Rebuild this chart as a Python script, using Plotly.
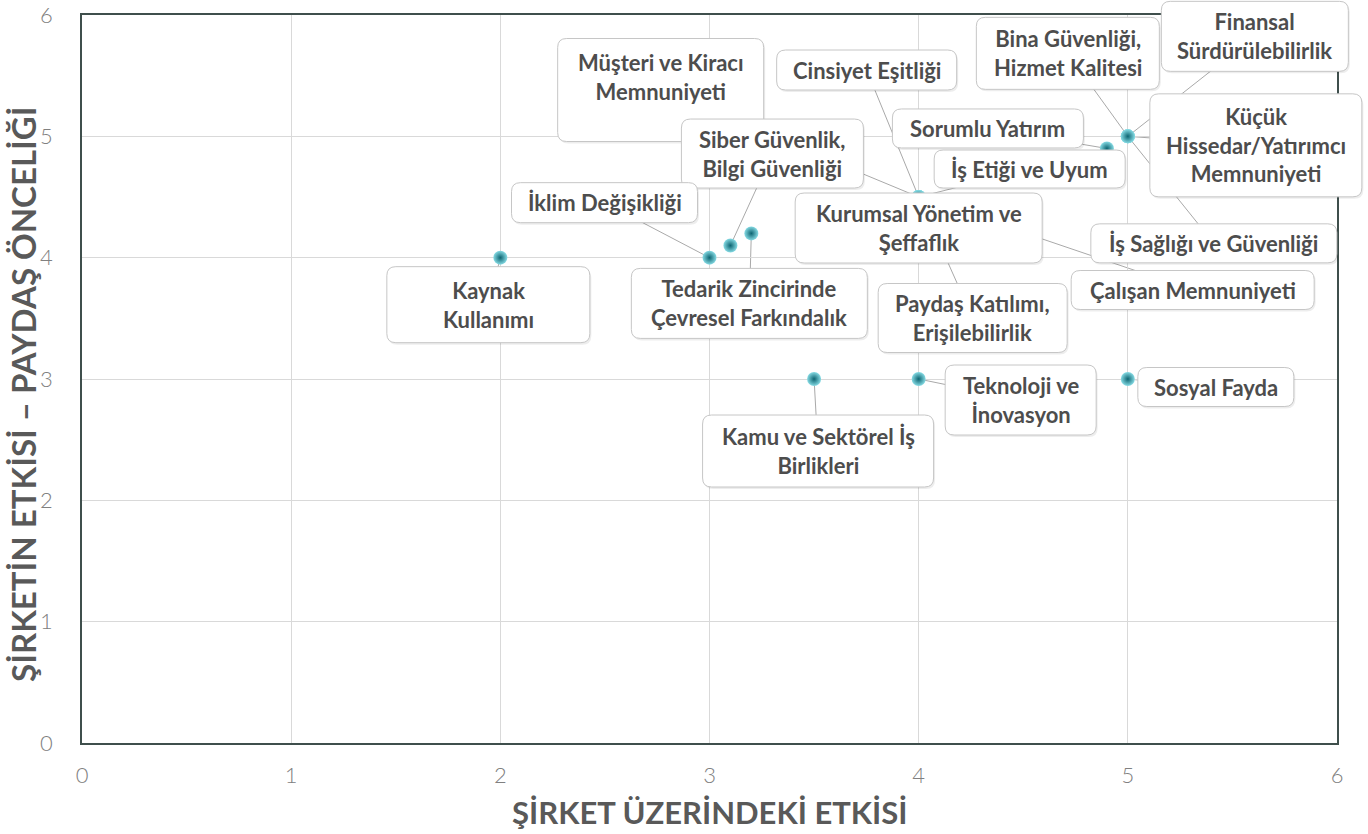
import plotly.graph_objects as go

# ---------------- data ----------------
labels = [
    "Müşteri ve Kiracı<br>Memnuniyeti",
    "Cinsiyet Eşitliği",
    "Bina Güvenliği,<br>Hizmet Kalitesi",
    "Finansal<br>Sürdürülebilirlik",
    "Sorumlu Yatırım",
    "Küçük<br>Hissedar/Yatırımcı<br>Memnuniyeti",
    "İş Etiği ve Uyum",
    "Siber Güvenlik,<br>Bilgi Güvenliği",
    "İklim Değişikliği",
    "Kurumsal Yönetim ve<br>Şeffaflık",
    "İş Sağlığı ve Güvenliği",
    "Kaynak<br>Kullanımı",
    "Tedarik Zincirinde<br>Çevresel Farkındalık",
    "Çalışan Memnuniyeti",
    "Paydaş Katılımı,<br>Erişilebilirlik",
    "Kamu ve Sektörel İş<br>Birlikleri",
    "Teknoloji ve<br>İnovasyon",
    "Sosyal Fayda",
]
company_impact = [4, 4, 5, 5, 4.9, 5, 4, 3.1, 3, 4, 5, 2, 3.2, 4, 4, 3.5, 4, 5]
stakeholder_priority = [4.5, 4.5, 5, 5, 4.9, 5, 4.5, 4.1, 4, 4.5, 5, 4, 4.2, 4.5, 4.5, 3, 3, 3]

x_ticks = [0, 1, 2, 3, 4, 5, 6]
y_ticks = [0, 1, 2, 3, 4, 5, 6]

x_title = "ŞİRKET ÜZERİNDEKİ ETKİSİ"
y_title = "ŞİRKETİN ETKİSİ – PAYDAŞ ÖNCELİĞİ"

# ---------------- label placement (pixel offsets from the point) ----------------
label_dx = [-258, -52, -60, 127, -119, 128, 111, 42, -105, 0, 86, -12, -2, 274, 54, 4, 102, 88]
label_dy = [-107, -127, -83, -100, -20, 9, -28, -92, -55, 31, 107, 47, 70, 93, 121, 72, 21, 8]
text_nudge = [-13, 0, 0, 0, 0, 0, 0, 0, 0, 0, 0, 0, 0, 0, 0, 0, 0, 0]
box_w = [206, 180, 183, 187, 191, 212, 191, 182, 186, 247, 246, 203, 236, 243, 189, 231, 151, 156]
box_h = [103, 40, 72, 70, 39, 103, 38, 69, 40, 70, 39, 76, 70, 39, 69, 72, 70, 39]

X_MAX = 6.0
Y_MAX = 6.0
FONT = "Lato"
LABEL_COLOR = "#4d4d4d"


def rrect(cx, cy, w, h, r=9):
    x0, x1 = cx - w / 2, cx + w / 2
    y0, y1 = cy - h / 2, cy + h / 2
    return (f"M{x0 + r},{y0} L{x1 - r},{y0} Q{x1},{y0} {x1},{y0 + r} "
            f"L{x1},{y1 - r} Q{x1},{y1} {x1 - r},{y1} L{x0 + r},{y1} "
            f"Q{x0},{y1} {x0},{y1 - r} L{x0},{y0 + r} Q{x0},{y0} {x0 + r},{y0} Z")


fig = go.Figure()

fig.add_trace(go.Scatter(
    x=company_impact, y=stakeholder_priority, mode="markers",
    marker=dict(size=14, color="#86dbe4",
                gradient=dict(type="radial", color="#0d6572"),
                line=dict(width=0)),
    hoverinfo="text", hovertext=[l.replace("<br>", " ") for l in labels],
    showlegend=False, cliponaxis=False,
))

shapes = []
# leader lines (below everything)
for xv, yv, dx, dy in zip(company_impact, stakeholder_priority, label_dx, label_dy):
    shapes.append(dict(
        type="line", xref="x", yref="y", xsizemode="pixel", ysizemode="pixel",
        xanchor=xv, yanchor=yv, x0=0, y0=0, x1=dx, y1=-dy,
        line=dict(color="#a9a9a9", width=1), layer="below",
    ))
# label boxes (above markers)
for xv, yv, dx, dy, w, h in zip(company_impact, stakeholder_priority, label_dx, label_dy, box_w, box_h):
    common = dict(type="path", xref="paper", yref="paper", xsizemode="pixel", ysizemode="pixel",
                  xanchor=xv / X_MAX, yanchor=yv / Y_MAX, layer="above")
    shapes.append(dict(common, path=rrect(dx + 1.5, -dy - 2, w, h),
                       fillcolor="rgba(0,0,0,0.07)", line=dict(width=0)))
    shapes.append(dict(common, path=rrect(dx, -dy, w, h),
                       fillcolor="white", line=dict(color="#c6c6c6", width=1)))

annotations = []
for lab, xv, yv, dx, dy, nd in zip(labels, company_impact, stakeholder_priority, label_dx, label_dy, text_nudge):
    annotations.append(dict(
        x=xv, y=yv, xref="x", yref="y", text=lab, showarrow=False,
        xshift=dx, yshift=-(dy + nd), align="center",
        font=dict(family=FONT, size=22, color=LABEL_COLOR, weight="bold"),
    ))

annotations.append(dict(
    x=0.5, y=-0.095, xref="paper", yref="paper", text=x_title, showarrow=False,
    xanchor="center", yanchor="middle",
    font=dict(family=FONT, size=31, color="#595959", weight="bold"),
))
annotations.append(dict(
    x=-0.0475, y=0.48, xref="paper", yref="paper", text=y_title, showarrow=False,
    textangle=-90, xanchor="center", yanchor="middle",
    font=dict(family=FONT, size=33, color="#595959", weight="bold"),
))

axis_common = dict(
    range=[0, 6], showgrid=True, gridcolor="#d9d9d9", gridwidth=1,
    zeroline=False, showline=True, mirror=True, linecolor="#3f4f4c", linewidth=1.5,
    ticks="", tickfont=dict(family=FONT, size=22, color="#808080", weight=300),
    fixedrange=True, automargin=False, ticklabeloverflow="allow",
)

fig.update_layout(
    width=1368, height=834,
    margin=dict(l=82, r=31, t=15, b=91),
    paper_bgcolor="white", plot_bgcolor="white",
    xaxis=dict(axis_common, tickvals=x_ticks, ticklabelstandoff=12),
    yaxis=dict(axis_common, tickvals=y_ticks, ticklabelstandoff=23),
    shapes=shapes, annotations=annotations, showlegend=False,
)

# remove the default 8px page margin so the figure fills the window exactly
fig.write_html(
    "out.html",
    config={"displayModeBar": False},
    post_script="document.body.style.margin='0px';document.body.style.overflow='hidden';",
)
